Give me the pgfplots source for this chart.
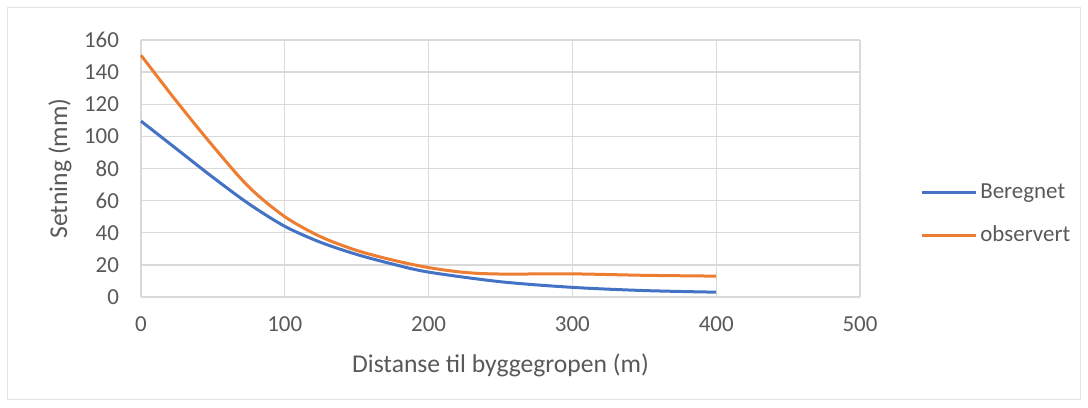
\documentclass[border=0pt]{standalone}
\usepackage{fontspec}
\setmainfont{Carlito}
\usepackage{pgfplots}
\pgfplotsset{compat=1.18}
\definecolor{xlblue}{HTML}{4472C4}
\definecolor{xlorange}{HTML}{ED7D31}
\definecolor{xlgrid}{HTML}{D9D9D9}
\definecolor{xltext}{HTML}{595959}
\begin{document}
\begin{tikzpicture}[x=0.75pt,y=0.75pt]
\useasboundingbox (-141,-110) rectangle (947,297);
\draw[xlgrid!70, line width=0.75pt] (-133,-102) rectangle (939,289);
\begin{axis}[
  at={(0,0)}, anchor=south west,
  scale only axis,
  width=539.25pt, height=192.75pt,
  xmin=0, xmax=500, ymin=0, ymax=160,
  xtick={0,100,...,500}, ytick={0,20,...,160},
  grid=major,
  grid style={xlgrid, line width=1pt},
  axis line style={xlgrid, line width=1pt},
  axis x line*=bottom, axis y line*=left,
  major tick length=0pt,
  tick label style={font=\fontsize{17.2pt}{19pt}\selectfont, text=xltext},
  /pgf/number format/assume math mode=true,
  xticklabel style={yshift=-11pt},
  yticklabel style={xshift=-13pt},
  xlabel={Distanse til byggegropen (m)},
  ylabel={Setning (mm)},
  label style={font=\fontsize{19.2pt}{21pt}\selectfont, text=xltext},
  xlabel style={at={(rel axis cs:0.5,0)}, anchor=center, yshift=-51pt},
  ylabel style={at={(rel axis cs:0,0.5)}, anchor=center, rotate=0, yshift=60.75pt},
  legend style={at={(1.084,0.323)}, anchor=west, draw=none, fill=none,
    font=\fontsize{17.2pt}{19pt}\selectfont, text=xltext,
    row sep=15pt, inner sep=0pt},
  legend cell align=left,
  legend image code/.code={\draw[#1, line width=2.25pt] (0pt,0pt) -- (40.5pt,0pt);},
  clip=false,
]
\addplot[xlblue, line width=2.25pt, smooth, tension=0.5] coordinates {
  (0,109.5) (25,92) (50,74.5) (75,58) (100,44) (125,34) (150,26.5) (175,20.5)
  (200,15.5) (250,9.5) (300,6) (350,4) (400,3)
};
\addlegendentry{Beregnet}
\addplot[xlorange, line width=2.25pt, smooth, tension=0.5] coordinates {
  (0,150.5) (25,121.5) (50,94) (75,68.5) (100,50) (125,37.5) (150,29)
  (175,23) (200,18.3) (225,15.3) (250,14.3) (300,14.4) (350,13.5) (400,13)
};
\addlegendentry{observert}
\end{axis}
\end{tikzpicture}
\end{document}
